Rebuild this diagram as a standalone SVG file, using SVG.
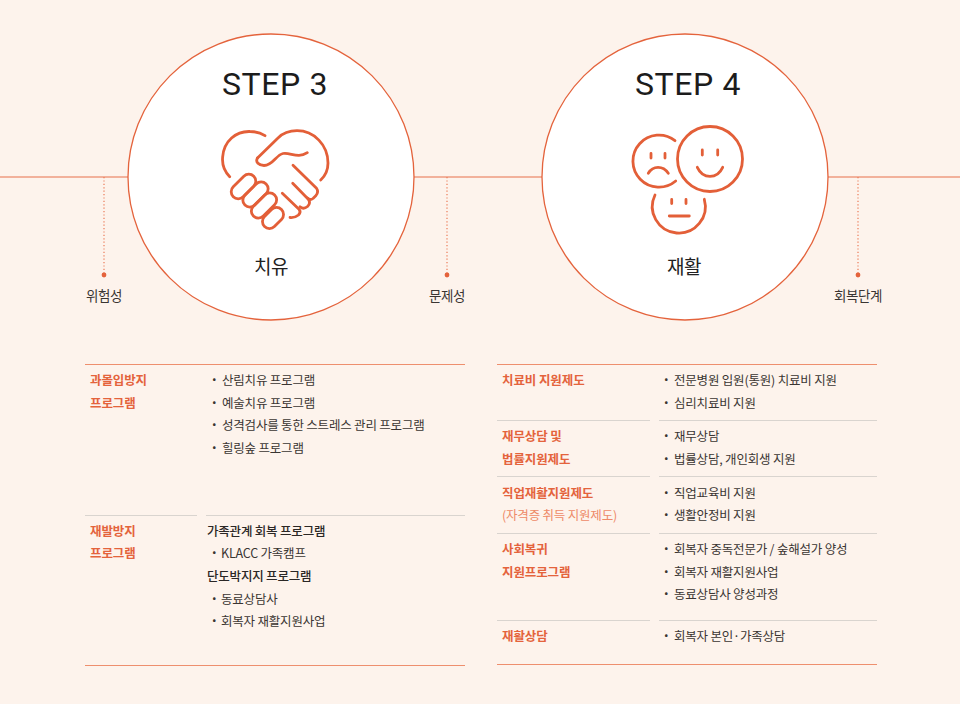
<svg xmlns="http://www.w3.org/2000/svg" width="960" height="704" viewBox="0 0 960 704">
<style>
text{font-family:"Noto Sans CJK KR","Noto Sans",sans-serif}
.b,.k,.h,.s{font-size:12.5px;letter-spacing:-.2px}
.b{fill:#3a3532}
.k{fill:#2b2725;font-weight:500}
.h{fill:#e4633c;font-weight:700;letter-spacing:-.1px}
.s{fill:#ee8a68}
.l{font-size:13.5px;fill:#3a3532;text-anchor:middle;letter-spacing:-.4px}
.c{font-size:19px;fill:#222;text-anchor:middle;letter-spacing:-.6px}
.t{font-family:Roboto,"Liberation Sans",sans-serif;font-weight:400;font-size:32px;fill:#1c1c1c;text-anchor:middle;letter-spacing:.6px}
.i{fill:none;stroke:#e35f38;stroke-width:2.8;stroke-linecap:round;stroke-linejoin:round}
.d{stroke:#ec7a56;stroke-width:1.2;stroke-dasharray:1.2 2.2;fill:none}
.o{stroke:#ee8f6e;stroke-width:1;fill:none}
.g{stroke:#d9d4cf;stroke-width:1;fill:none}
</style>
<rect width="960" height="704" fill="#fdf3ec"/>
<g id="connectors">
<path d="M0 177H128M414 177H542M828 177H960" fill="none" stroke="#e8704a" stroke-width="1.100"/>
<path class="d" d="M104 177V275M447 177V275M858 177V275"/>
<circle cx="104" cy="275" r="2.400" fill="#e4633c"/><circle cx="447" cy="275" r="2.400" fill="#e4633c"/><circle cx="858" cy="275" r="2.400" fill="#e4633c"/>
</g>
<g id="step3">
<circle cx="271" cy="177" r="143" fill="#fff" stroke="#e4633c" stroke-width="1.300"/>
<text class="t" x="275" y="95">STEP 3</text>
<g class="i">
<path d="M229.700 176.700C224 171 222 163 222.700 156.700C224 141 236 131 250 131.500C256 131.500 261 133 265 135.700"/>
<path d="M257.500 158L278 138C283 133 290 130.700 297 130.700C314 130.700 328 145 328 163C328 170 325 176 320.700 180"/>
<path d="M257.500 158C255 162 259 165.500 264 165.500C273 165.500 276 155 283 153.500C290 152 298 159 307.300 152.700"/>
<path d="M293 165.300L316.500 188.300C318 190.500 318 193 316 195.500L313 198.500C311 200 309 199.500 307.500 198"/>
<path d="M292.700 183.300L308.300 199.300C310 201.500 310 204 307.500 206.500C305 208.500 302 208.500 300 206.700"/>
<path d="M282.300 193.300L299 209.300C300.500 211 300.500 213 298.500 215C295.500 217.500 293 217.800 290 217.500"/>
<rect x="-7" y="-14.500" width="14" height="29" rx="7" transform="translate(243.500 186.500) rotate(45)"/>
<rect x="-7" y="-15" width="14" height="30" rx="7" transform="translate(255.500 194.500) rotate(45)"/>
<rect x="-7" y="-15" width="14" height="30" rx="7" transform="translate(264 205.500) rotate(45)"/>
<rect x="-7" y="-12" width="14" height="24" rx="7" transform="translate(273 218) rotate(45)"/>
</g>
<text class="c" x="271" y="274">치유</text>
</g>
<g id="step4">
<circle cx="685" cy="177" r="143" fill="#fff" stroke="#e4633c" stroke-width="1.300"/>
<text class="t" x="688" y="95">STEP 4</text>
<g class="i">
<path d="M675 140.700A26 26 0 1 0 675.700 181"/>
<circle cx="710" cy="159" r="32.500"/>
<path d="M651 153.500V158M665 153.500V158M702.300 150V155M717.700 150V155"/>
<path d="M648.300 173.300C653 165.500 663 165.500 668.300 173.300"/>
<path d="M697.300 167.300C703 179.500 717 179.500 722.700 167.300"/>
<path d="M655 195A26.500 26.500 0 1 0 704.300 199.300"/>
<path d="M671.700 199.500V203.500M686 199.500V203.500M669.300 216H689.300"/>
</g>
<text class="c" x="684" y="274">재활</text>
</g>
<g id="side-labels">
<text class="l" x="104" y="301">위험성</text>
<text class="l" x="447" y="301">문제성</text>
<text class="l" x="858" y="301">회복단계</text>
</g>
<g id="left-table">
<path class="o" d="M85 364.500H465M85 665.500H465"/>
<path class="g" d="M85 515.500H197M206 515.500H465"/>
<text class="h" x="90" y="385">과몰입방지</text><text class="h" x="90" y="408">프로그램</text>
<text class="b" x="208" y="385">・<tspan x="222">산림치유 프로그램</tspan></text>
<text class="b" x="208" y="408">・<tspan x="222">예술치유 프로그램</tspan></text>
<text class="b" x="208" y="430">・<tspan x="222">성격검사를 통한 스트레스 관리 프로그램</tspan></text>
<text class="b" x="208" y="453">・<tspan x="222">힐링숲 프로그램</tspan></text>
<text class="h" x="90" y="536">재발방지</text><text class="h" x="90" y="558">프로그램</text>
<text class="k" x="207" y="536">가족관계 회복 프로그램</text>
<text class="b" x="208" y="558">・<tspan x="221">KLACC 가족캠프</tspan></text>
<text class="k" x="207" y="581">단도박지지 프로그램</text>
<text class="b" x="208" y="604">・<tspan x="221">동료상담사</tspan></text>
<text class="b" x="208" y="626">・<tspan x="221">회복자 재활지원사업</tspan></text>
</g>
<g id="right-table">
<path class="o" d="M497 364.500H877M497 664.500H877"/>
<path class="g" d="M497 420.500H650M659 420.500H877M497 476.500H650M659 476.500H877M497 533.500H650M659 533.500H877M497 620.500H650M659 620.500H877"/>
<text class="h" x="502" y="385">치료비 지원제도</text>
<text class="b" x="660" y="385">・<tspan x="674">전문병원 입원(통원) 치료비 지원</tspan></text>
<text class="b" x="660" y="408">・<tspan x="674">심리치료비 지원</tspan></text>
<text class="h" x="502" y="441">재무상담 및</text><text class="h" x="502" y="464">법률지원제도</text>
<text class="b" x="660" y="441">・<tspan x="674">재무상담</tspan></text>
<text class="b" x="660" y="464">・<tspan x="674">법률상담, 개인회생 지원</tspan></text>
<text class="h" x="502" y="498">직업재활지원제도</text><text class="s" x="502" y="520">(자격증 취득 지원제도)</text>
<text class="b" x="660" y="498">・<tspan x="674">직업교육비 지원</tspan></text>
<text class="b" x="660" y="520">・<tspan x="674">생활안정비 지원</tspan></text>
<text class="h" x="502" y="554">사회복귀</text><text class="h" x="502" y="577">지원프로그램</text>
<text class="b" x="660" y="554">・<tspan x="674">회복자 중독전문가 / 숲해설가 양성</tspan></text>
<text class="b" x="660" y="577">・<tspan x="674">회복자 재활지원사업</tspan></text>
<text class="b" x="660" y="599">・<tspan x="674">동료상담사 양성과정</tspan></text>
<text class="h" x="502" y="641">재활상담</text>
<text class="b" x="660" y="641">・<tspan x="674">회복자 본인·가족상담</tspan></text>
</g>
</svg>
